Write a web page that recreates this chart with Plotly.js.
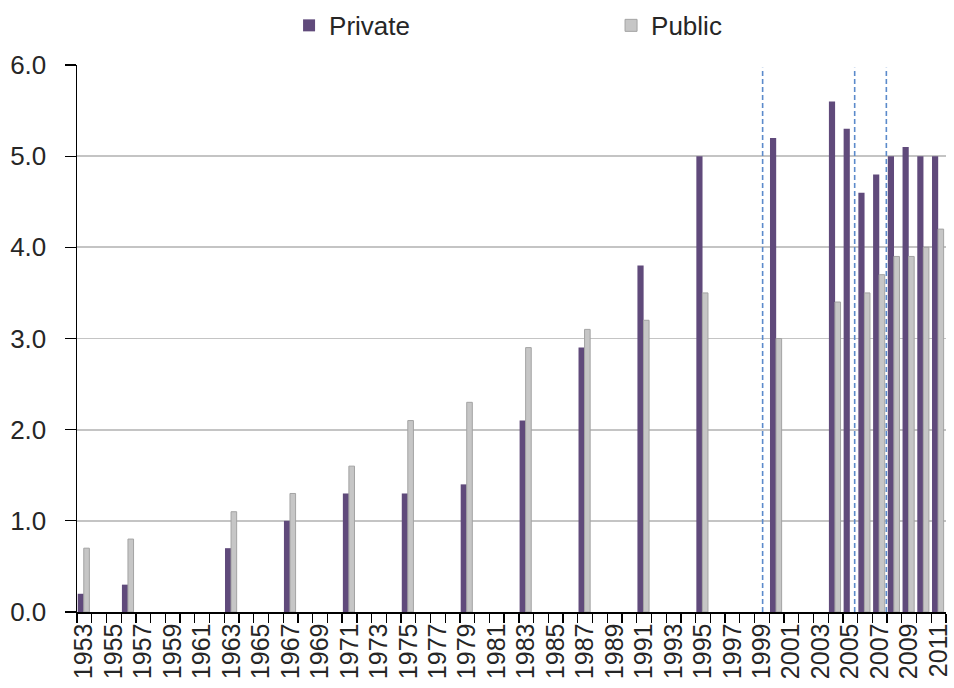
<!DOCTYPE html>
<html>
<head>
<meta charset="utf-8">
<script src="https://cdn.plot.ly/plotly-3.0.1.min.js"></script>
<style>
  html, body { margin: 0; padding: 0; background: #fff; }
  #chart { width: 954px; height: 688px; }
</style>
</head>
<body>
<div id="chart"></div>
<script>
// Survey years with observations
const years      = [1953, 1956, 1963, 1967, 1971, 1975, 1979, 1983, 1987, 1991, 1995, 2000, 2004, 2005, 2006, 2007, 2008, 2009, 2010, 2011];
const privateVal = [0.2,  0.3,  0.7,  1.0,  1.3,  1.3,  1.4,  2.1,  2.9,  3.8,  5.0,  5.2,  5.6,  5.3,  4.6,  4.8,  5.0,  5.1,  5.0,  5.0];
const publicVal  = [0.7,  0.8,  1.1,  1.3,  1.6,  2.1,  2.3,  2.9,  3.1,  3.2,  3.5,  3.0,  3.4,  null, 3.5,  3.7,  3.9,  3.9,  4.0,  4.2];

// Category axis: one slot per year, labelled every second year
const firstYear = 1953;
const lastYear  = 2011;
const tickYears = [];
for (let y = firstYear; y <= lastYear; y += 2) tickYears.push(y);
const tickLabels = tickYears.map(String);

// Series breaks marked with dashed verticals
const breakYears = [1999.05, 2005.3, 2007.45];

const slotEdges = [];
for (let y = firstYear; y <= lastYear + 1; y++) slotEdges.push(y - 0.5);

const FONT = 'Liberation Sans, Arial, sans-serif';
const TXT = '#262626';

const data = [
  {
    type: 'bar', name: 'Private', x: years, y: privateVal,
    width: 0.42, offset: -0.45,
    marker: { color: '#604A7B', line: { width: 0 } },
    hoverinfo: 'x+y'
  },
  {
    type: 'bar', name: 'Public', x: years, y: publicVal,
    width: 0.38, offset: -0.04,
    marker: { color: '#C6C6C6', line: { color: '#A3A3A3', width: 1 } },
    hoverinfo: 'x+y'
  }
];

const shapes = breakYears.map(b => ({
  type: 'line', xref: 'x', yref: 'y',
  x0: b, x1: b, y0: 0, y1: 5.97,
  line: { color: '#5B8ACB', width: 1.6, dash: '5px,3px' },
  layer: 'above'
}));

const layout = {
  width: 954, height: 688,
  margin: { l: 77, r: 8, t: 65, b: 76, autoexpand: false },
  paper_bgcolor: '#fff', plot_bgcolor: '#fff',
  font: { family: FONT, size: 26, color: TXT },
  barmode: 'overlay',
  showlegend: true,
  legend: {
    orientation: 'h',
    xref: 'container', yref: 'container',
    x: 0.303, xanchor: 'left',
    y: 0.963, yanchor: 'middle',
    entrywidth: 277,
    font: { family: FONT, size: 26, color: TXT },
    bgcolor: 'rgba(0,0,0,0)'
  },
  xaxis: {
    type: 'linear',
    range: [firstYear - 0.5, lastYear + 0.5],
    tickmode: 'array', tickvals: tickYears, ticktext: tickLabels,
    tickangle: -90,
    ticklabeloverflow: 'allow',
    ticks: '', showgrid: false, zeroline: false,
    showline: true, linecolor: '#000', linewidth: 1.5,
    tickfont: { family: FONT, size: 25, color: TXT },
    minor: {
      tickmode: 'array', tickvals: slotEdges,
      ticks: 'outside', ticklen: 9, tickwidth: 1.3, tickcolor: '#000',
      showgrid: false
    },
    automargin: false,
    fixedrange: true
  },
  yaxis: {
    range: [0, 6],
    tickmode: 'linear', tick0: 0, dtick: 1,
    tickformat: '.1f',
    ticks: 'outside', ticklen: 11, tickwidth: 1.3, tickcolor: '#000',
    ticklabelstandoff: 13,
    showline: true, linecolor: '#000', linewidth: 1.5,
    showgrid: true, gridcolor: '#C4C4C4', gridwidth: 1.8,
    zeroline: false,
    tickfont: { family: FONT, size: 26, color: TXT },
    automargin: false,
    fixedrange: true
  },
  shapes: shapes
};

Plotly.newPlot('chart', data, layout, { displayModeBar: false, staticPlot: true });
</script>
</body>
</html>
